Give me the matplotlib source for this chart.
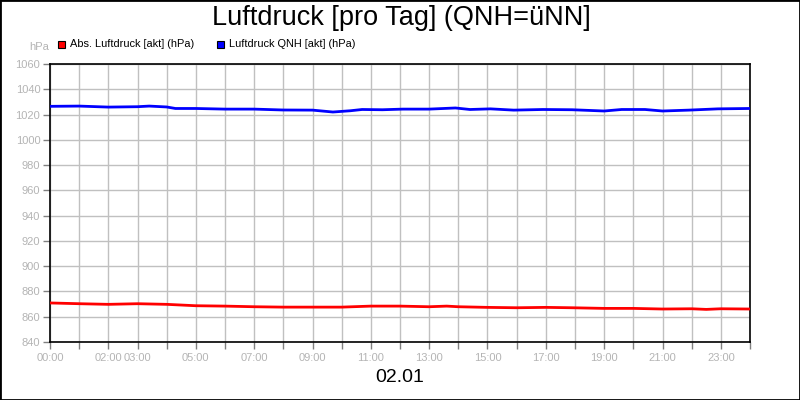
import matplotlib
matplotlib.use("Agg")
import matplotlib.pyplot as plt
from matplotlib.patches import Rectangle

plt.rcParams['font.family'] = ['Liberation Sans', 'DejaVu Sans']

title = "Luftdruck [pro Tag] (QNH=üNN]"
date_label = "02.01"
unit_label = "hPa"
series_names = ["Abs. Luftdruck [akt] (hPa)", "Luftdruck QNH [akt] (hPa)"]
series_colors = ["#ff0000", "#0000ff"]

qnh_hours = [0, 1, 2, 3, 3.4, 4, 4.3, 5, 6, 7, 8, 9, 9.7, 10.3, 10.7, 11.4, 12.1,
             13.0, 13.9, 14.4, 15.1, 15.9, 16.9, 17.9, 19.0, 19.6, 20.4, 21.0,
             21.9, 22.9, 24]
qnh_values = [1026.5, 1026.7, 1025.9, 1026.2, 1026.7, 1026.0, 1024.8, 1024.8, 1024.3,
              1024.3, 1023.6, 1023.5, 1022.0, 1023.0, 1024.0, 1023.8, 1024.3,
              1024.3, 1025.2, 1024.0, 1024.5, 1023.5, 1024.0, 1023.8, 1022.8, 1024.0,
              1024.0, 1022.8, 1023.5, 1024.5, 1024.8]

abs_hours = [0, 1, 2, 3, 4, 5, 6, 7, 8, 9, 10, 11, 12, 13, 13.6, 14, 15, 16, 17, 17.9,
             19, 20, 21, 22, 22.5, 23, 24]
abs_values = [870.9, 870.3, 869.8, 870.3, 869.8, 868.7, 868.4, 867.9, 867.6, 867.6,
              867.6, 868.4, 868.4, 867.9, 868.4, 867.9, 867.4, 867.1, 867.4, 867.1,
              866.6, 866.6, 866.1, 866.3, 865.8, 866.3, 866.1]

y_ticks = list(range(840, 1061, 20))
x_tick_hours = list(range(0, 25))
x_labeled = {0: "00:00", 2: "02:00", 3: "03:00", 5: "05:00", 7: "07:00", 9: "09:00",
             11: "11:00", 13: "13:00", 15: "15:00", 17: "17:00", 19: "19:00",
             21: "21:00", 23: "23:00"}

fig = plt.figure(figsize=(8, 4), dpi=100)
ax = fig.add_axes([50/800, 1-342/400, 700/800, 278/400])

ax.plot(abs_hours, abs_values, color=series_colors[0], lw=2, zorder=3)
ax.plot(qnh_hours, qnh_values, color=series_colors[1], lw=2, zorder=3)

ax.set_xlim(0, 24)
ax.set_ylim(840, 1060)
ax.set_yticks(y_ticks)
ax.set_xticks(x_tick_hours)
ax.set_xticklabels([x_labeled.get(h, "") for h in x_tick_hours])
ax.grid(True, color="#c0c0c0", lw=1, zorder=0)
ax.tick_params(axis='both', colors="#808080", labelcolor="#b4b4b4", labelsize=8,
               length=5, width=1, direction='out')
ax.tick_params(axis='y', pad=2)
ax.tick_params(axis='x', pad=3)
for s in ax.spines.values():
    s.set_color('black')
    s.set_linewidth(1.2)

fig.text(401/800, 1-18/400, title, ha='center', va='center', fontsize=19.5, color='black')
fig.text(400/800, 1-378/400, date_label, ha='center', va='center', fontsize=14, color='black')
fig.text(39/800, 1-47/400, unit_label, ha='center', va='center', fontsize=8, color='#b4b4b4')

leg_y = 1-44/400
for x0, name, c in [(58, series_names[0], series_colors[0]), (217, series_names[1], series_colors[1])]:
    fig.patches.append(Rectangle((x0/800, leg_y-3.5/400), 7/800, 7/400,
                                 transform=fig.transFigure, facecolor=c,
                                 edgecolor='black', lw=0.8))
    fig.text((x0+12)/800, leg_y, name, ha='left', va='center', fontsize=7.9, color='black')

fig.patches.append(Rectangle((0, 0), 1, 1, transform=fig.transFigure, fill=False,
                             edgecolor='black', lw=2))

fig.savefig("out.png", dpi=100)
